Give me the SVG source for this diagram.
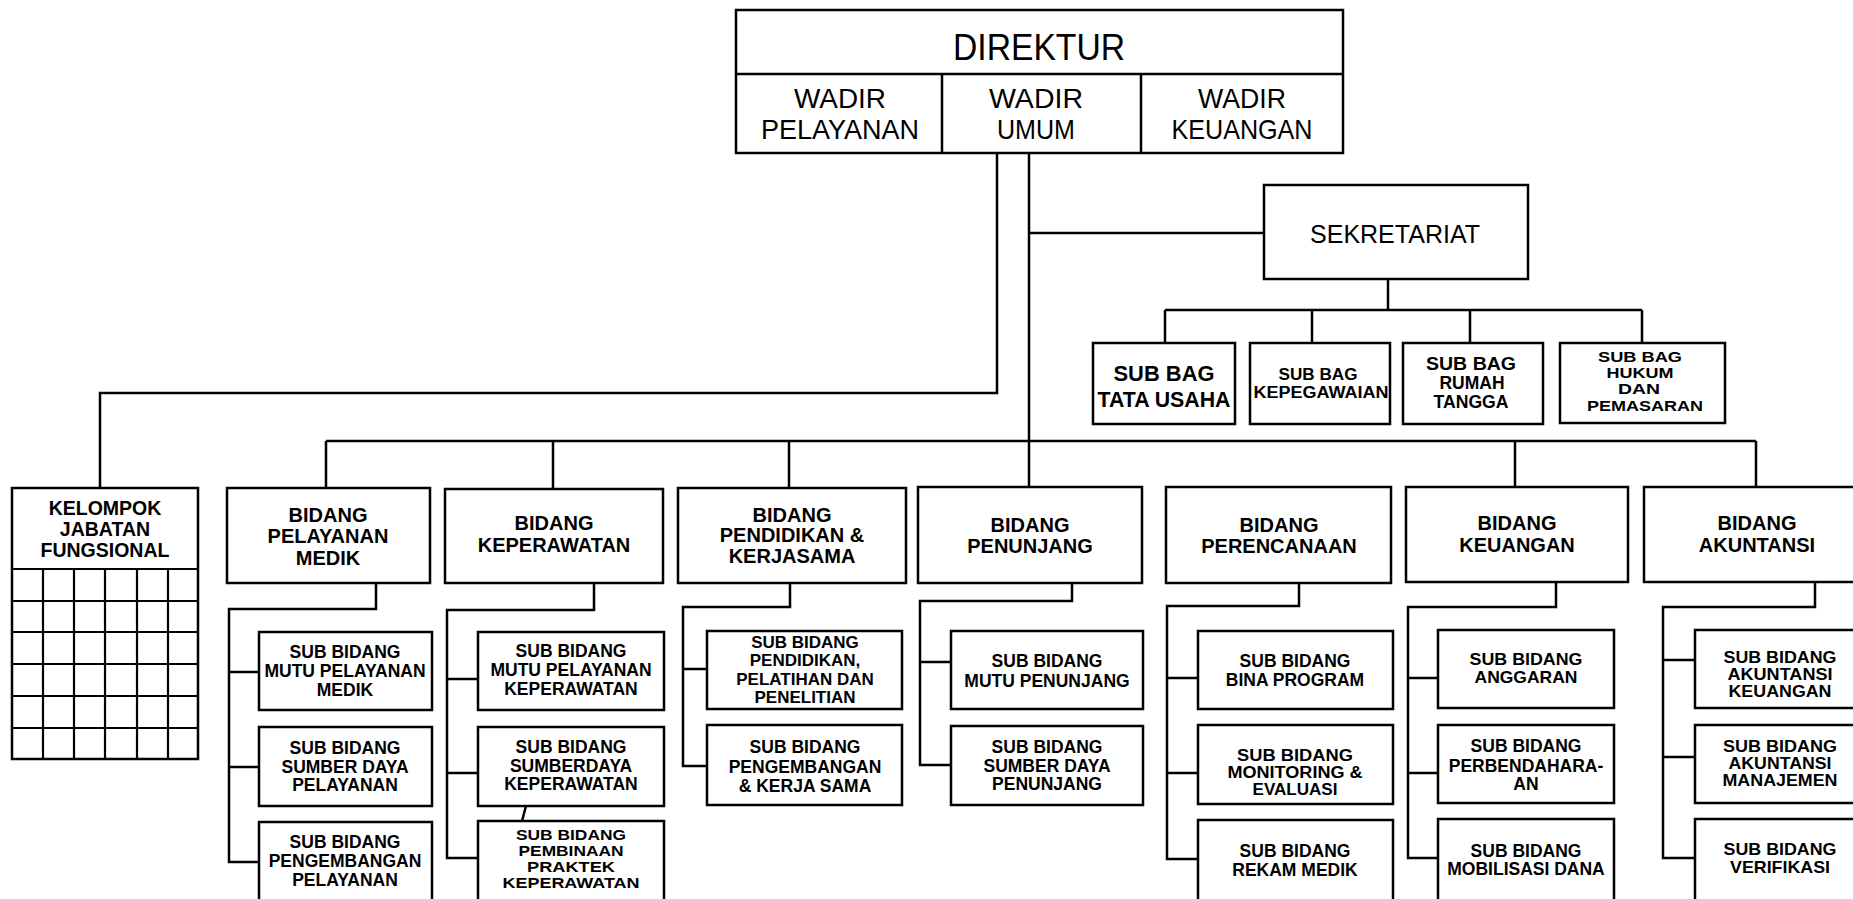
<svg xmlns="http://www.w3.org/2000/svg" width="1853" height="899" viewBox="0 0 1853 899">
<style>
.bx{fill:#fff;stroke:#000;stroke-width:2.5}
.ln{fill:none;stroke:#000;stroke-width:2.5}
.gr{fill:none;stroke:#000;stroke-width:2.2}
text{font-family:"Liberation Sans",Arial,sans-serif;fill:#000;text-anchor:middle}
.tr{font-size:28px}
.td{font-size:36px}
.ts{font-size:25px}
.tg{font-weight:bold;font-size:22px}
.tg2{font-weight:bold;font-size:16px}
.tg3{font-weight:bold;font-size:17.5px}
.tg4{font-weight:bold;font-size:15px}
.tb{font-weight:bold;font-size:20px}
.tk{font-weight:bold;font-size:19.5px}
.tsb{font-weight:bold;font-size:17.5px}
.ts17{font-weight:bold;font-size:17px}
.ts16{font-weight:bold;font-size:16px}
.ts15{font-weight:bold;font-size:15px}
</style>
<rect width="1853" height="899" fill="#fff"/>
<g id="connectors">
<path class="ln" d="M997,153 V393 H100 V488"/>
<path class="ln" d="M1029,153 V487"/>
<path class="ln" d="M1029,233 H1264"/>
<path class="ln" d="M1388,279 V310 M1165,310 H1642 M1165,310 V343 M1312,310 V343 M1470,310 V343 M1642,310 V343"/>
<path class="ln" d="M326,441 H1756 M326,441 V488 M553,441 V489 M789,441 V488 M1515,441 V487 M1756,441 V487"/>
<path class="ln" d="M376,583 V609 H229 V862 H259 M229,672 H259 M229,767 H259"/>
<path class="ln" d="M594,583 V610 H447 V858 H478 M447,679 H478 M447,773 H478 M526,806 L522,821"/>
<path class="ln" d="M790,583 V607 H683 V766 H707 M683,669 H707"/>
<path class="ln" d="M1072,583 V601 H920 V765 H951 M920,662 H951"/>
<path class="ln" d="M1299,583 V606 H1167 V859 H1198 M1167,678 H1198 M1167,773 H1198"/>
<path class="ln" d="M1556,582 V607 H1408 V858 H1438 M1408,678 H1438 M1408,773 H1438"/>
<path class="ln" d="M1815,582 V607 H1663 V858 H1695 M1663,660 H1695 M1663,757 H1695"/>
</g>
<g id="direktur">
<rect class="bx" x="736" y="10" width="607" height="143"/>
<path class="ln" d="M736,74 H1343 M942,74 V153 M1141,74 V153"/>
<text class="td" x="1039" y="60" textLength="172" lengthAdjust="spacingAndGlyphs">DIREKTUR</text>
</g>
<g id="wadir-pelayanan">
<text class="tr" x="840" y="108" textLength="92" lengthAdjust="spacingAndGlyphs">WADIR</text>
<text class="tr" x="840" y="139" textLength="158" lengthAdjust="spacingAndGlyphs">PELAYANAN</text>
</g>
<g id="wadir-umum">
<text class="tr" x="1036" y="108" textLength="94" lengthAdjust="spacingAndGlyphs">WADIR</text>
<text class="tr" x="1036" y="139" textLength="78" lengthAdjust="spacingAndGlyphs">UMUM</text>
</g>
<g id="wadir-keuangan">
<text class="tr" x="1242" y="108" textLength="88" lengthAdjust="spacingAndGlyphs">WADIR</text>
<text class="tr" x="1242" y="139" textLength="141" lengthAdjust="spacingAndGlyphs">KEUANGAN</text>
</g>
<g id="sekretariat">
<rect class="bx" x="1264" y="185" width="264" height="94"/>
<text class="ts" x="1395" y="243">SEKRETARIAT</text>
</g>
<g id="subbag-tu">
<rect class="bx" x="1093" y="343" width="142" height="81"/>
<text class="tg" x="1164" y="381" textLength="101" lengthAdjust="spacingAndGlyphs">SUB BAG</text>
<text class="tg" x="1164" y="407" textLength="133" lengthAdjust="spacingAndGlyphs">TATA USAHA</text>
</g>
<g id="subbag-kepegawaian">
<rect class="bx" x="1250" y="343" width="140" height="81"/>
<text class="tg2" x="1318" y="380" textLength="79" lengthAdjust="spacingAndGlyphs">SUB BAG</text>
<text class="tg2" x="1321" y="398" textLength="135" lengthAdjust="spacingAndGlyphs">KEPEGAWAIAN</text>
</g>
<g id="subbag-rt">
<rect class="bx" x="1403" y="343" width="140" height="81"/>
<text class="tg3" x="1471" y="370" textLength="90" lengthAdjust="spacingAndGlyphs">SUB BAG</text>
<text class="tg3" x="1472" y="389" textLength="65" lengthAdjust="spacingAndGlyphs">RUMAH</text>
<text class="tg3" x="1471" y="408" textLength="75" lengthAdjust="spacingAndGlyphs">TANGGA</text>
</g>
<g id="subbag-hukum">
<rect class="bx" x="1560" y="343" width="165" height="80"/>
<text class="tg4" x="1640" y="362" textLength="84" lengthAdjust="spacingAndGlyphs">SUB BAG</text>
<text class="tg4" x="1640" y="378" textLength="67" lengthAdjust="spacingAndGlyphs">HUKUM</text>
<text class="tg4" x="1639" y="394" textLength="42" lengthAdjust="spacingAndGlyphs">DAN</text>
<text class="tg4" x="1645" y="411" textLength="116" lengthAdjust="spacingAndGlyphs">PEMASARAN</text>
</g>
<g id="kelompok">
<rect class="bx" x="12" y="488" width="186" height="271"/>
<path class="gr" d="M12,569 H198 M12,601 H198 M12,632 H198 M12,664 H198 M12,696 H198 M12,728 H198 M43,569 V759 M74,569 V759 M105,569 V759 M137,569 V759 M168,569 V759"/>
<text class="tk" x="105" y="515">KELOMPOK</text>
<text class="tk" x="105" y="536">JABATAN</text>
<text class="tk" x="105" y="557">FUNGSIONAL</text>
</g>
<g id="bidang-pelayanan-medik">
<rect class="bx" x="227" y="488" width="203" height="95"/>
<text class="tb" x="328" y="522">BIDANG</text>
<text class="tb" x="328" y="543">PELAYANAN</text>
<text class="tb" x="328" y="565">MEDIK</text>
</g>
<g id="sb-mutu-medik">
<rect class="bx" x="259" y="632" width="173" height="78"/>
<text class="tsb" x="345" y="658">SUB BIDANG</text>
<text class="tsb" x="345" y="677">MUTU PELAYANAN</text>
<text class="tsb" x="345" y="696">MEDIK</text>
</g>
<g id="sb-sdm-pelayanan">
<rect class="bx" x="259" y="727" width="173" height="79"/>
<text class="tsb" x="345" y="754">SUB BIDANG</text>
<text class="tsb" x="345" y="773">SUMBER DAYA</text>
<text class="tsb" x="345" y="791">PELAYANAN</text>
</g>
<g id="sb-pengembangan-pelayanan">
<rect class="bx" x="259" y="822" width="173" height="80"/>
<text class="tsb" x="345" y="848">SUB BIDANG</text>
<text class="tsb" x="345" y="867">PENGEMBANGAN</text>
<text class="tsb" x="345" y="886">PELAYANAN</text>
</g>
<g id="bidang-keperawatan">
<rect class="bx" x="445" y="489" width="218" height="94"/>
<text class="tb" x="554" y="530">BIDANG</text>
<text class="tb" x="554" y="552">KEPERAWATAN</text>
</g>
<g id="sb-mutu-keperawatan">
<rect class="bx" x="478" y="632" width="186" height="78"/>
<text class="tsb" x="571" y="657">SUB BIDANG</text>
<text class="tsb" x="571" y="676">MUTU PELAYANAN</text>
<text class="tsb" x="571" y="695">KEPERAWATAN</text>
</g>
<g id="sb-sdm-keperawatan">
<rect class="bx" x="478" y="727" width="186" height="79"/>
<text class="tsb" x="571" y="753">SUB BIDANG</text>
<text class="tsb" x="571" y="772">SUMBERDAYA</text>
<text class="tsb" x="571" y="790">KEPERAWATAN</text>
</g>
<g id="sb-pembinaan-praktek">
<rect class="bx" x="478" y="821" width="186" height="81"/>
<text class="ts15" x="571" y="840" textLength="110" lengthAdjust="spacingAndGlyphs">SUB BIDANG</text>
<text class="ts15" x="571" y="856" textLength="105" lengthAdjust="spacingAndGlyphs">PEMBINAAN</text>
<text class="ts15" x="571" y="872" textLength="88" lengthAdjust="spacingAndGlyphs">PRAKTEK</text>
<text class="ts15" x="571" y="888" textLength="137" lengthAdjust="spacingAndGlyphs">KEPERAWATAN</text>
</g>
<g id="bidang-pendidikan">
<rect class="bx" x="678" y="488" width="228" height="95"/>
<text class="tb" x="792" y="522">BIDANG</text>
<text class="tb" x="792" y="542">PENDIDIKAN &amp;</text>
<text class="tb" x="792" y="563">KERJASAMA</text>
</g>
<g id="sb-pendidikan">
<rect class="bx" x="707" y="631" width="195" height="78"/>
<text class="ts17" x="805" y="648">SUB BIDANG</text>
<text class="ts17" x="805" y="666">PENDIDIKAN,</text>
<text class="ts17" x="805" y="685">PELATIHAN DAN</text>
<text class="ts17" x="805" y="703">PENELITIAN</text>
</g>
<g id="sb-pengembangan-kerjasama">
<rect class="bx" x="707" y="725" width="195" height="80"/>
<text class="tsb" x="805" y="753">SUB BIDANG</text>
<text class="tsb" x="805" y="773">PENGEMBANGAN</text>
<text class="tsb" x="805" y="792">&amp; KERJA SAMA</text>
</g>
<g id="bidang-penunjang">
<rect class="bx" x="918" y="487" width="224" height="96"/>
<text class="tb" x="1030" y="532">BIDANG</text>
<text class="tb" x="1030" y="553">PENUNJANG</text>
</g>
<g id="sb-mutu-penunjang">
<rect class="bx" x="951" y="631" width="192" height="78"/>
<text class="tsb" x="1047" y="667">SUB BIDANG</text>
<text class="tsb" x="1047" y="687">MUTU PENUNJANG</text>
</g>
<g id="sb-sdm-penunjang">
<rect class="bx" x="951" y="726" width="192" height="79"/>
<text class="tsb" x="1047" y="753">SUB BIDANG</text>
<text class="tsb" x="1047" y="772">SUMBER DAYA</text>
<text class="tsb" x="1047" y="790">PENUNJANG</text>
</g>
<g id="bidang-perencanaan">
<rect class="bx" x="1166" y="487" width="225" height="96"/>
<text class="tb" x="1279" y="532">BIDANG</text>
<text class="tb" x="1279" y="553">PERENCANAAN</text>
</g>
<g id="sb-bina-program">
<rect class="bx" x="1198" y="631" width="195" height="78"/>
<text class="tsb" x="1295" y="667">SUB BIDANG</text>
<text class="tsb" x="1295" y="686">BINA PROGRAM</text>
</g>
<g id="sb-monev">
<rect class="bx" x="1198" y="725" width="195" height="79"/>
<text class="ts16" x="1295" y="761" textLength="116" lengthAdjust="spacingAndGlyphs">SUB BIDANG</text>
<text class="ts16" x="1295" y="778" textLength="135" lengthAdjust="spacingAndGlyphs">MONITORING &amp;</text>
<text class="ts16" x="1295" y="795" textLength="85" lengthAdjust="spacingAndGlyphs">EVALUASI</text>
</g>
<g id="sb-rekam-medik">
<rect class="bx" x="1198" y="820" width="195" height="82"/>
<text class="tsb" x="1295" y="857">SUB BIDANG</text>
<text class="tsb" x="1295" y="876">REKAM MEDIK</text>
</g>
<g id="bidang-keuangan">
<rect class="bx" x="1406" y="487" width="222" height="95"/>
<text class="tb" x="1517" y="530">BIDANG</text>
<text class="tb" x="1517" y="552">KEUANGAN</text>
</g>
<g id="sb-anggaran">
<rect class="bx" x="1438" y="630" width="176" height="78"/>
<text class="ts17" x="1526" y="665" textLength="113" lengthAdjust="spacingAndGlyphs">SUB BIDANG</text>
<text class="ts17" x="1526" y="683" textLength="103" lengthAdjust="spacingAndGlyphs">ANGGARAN</text>
</g>
<g id="sb-perbendaharaan">
<rect class="bx" x="1438" y="725" width="176" height="78"/>
<text class="tsb" x="1526" y="752">SUB BIDANG</text>
<text class="tsb" x="1526" y="772">PERBENDAHARA-</text>
<text class="tsb" x="1526" y="790">AN</text>
</g>
<g id="sb-mobilisasi-dana">
<rect class="bx" x="1438" y="819" width="176" height="83"/>
<text class="tsb" x="1526" y="857">SUB BIDANG</text>
<text class="tsb" x="1526" y="875">MOBILISASI DANA</text>
</g>
<g id="bidang-akuntansi">
<rect class="bx" x="1644" y="487" width="226" height="95"/>
<text class="tb" x="1757" y="530">BIDANG</text>
<text class="tb" x="1757" y="552">AKUNTANSI</text>
</g>
<g id="sb-akuntansi-keuangan">
<rect class="bx" x="1695" y="630" width="172" height="78"/>
<text class="ts16" x="1780" y="663" textLength="113" lengthAdjust="spacingAndGlyphs">SUB BIDANG</text>
<text class="ts16" x="1780" y="680" textLength="105" lengthAdjust="spacingAndGlyphs">AKUNTANSI</text>
<text class="ts16" x="1780" y="697" textLength="103" lengthAdjust="spacingAndGlyphs">KEUANGAN</text>
</g>
<g id="sb-akuntansi-manajemen">
<rect class="bx" x="1695" y="725" width="172" height="78"/>
<text class="ts16" x="1780" y="752" textLength="114" lengthAdjust="spacingAndGlyphs">SUB BIDANG</text>
<text class="ts16" x="1780" y="769" textLength="103" lengthAdjust="spacingAndGlyphs">AKUNTANSI</text>
<text class="ts16" x="1780" y="786" textLength="115" lengthAdjust="spacingAndGlyphs">MANAJEMEN</text>
</g>
<g id="sb-verifikasi">
<rect class="bx" x="1695" y="819" width="172" height="83"/>
<text class="ts17" x="1780" y="855" textLength="113" lengthAdjust="spacingAndGlyphs">SUB BIDANG</text>
<text class="ts17" x="1780" y="873" textLength="100" lengthAdjust="spacingAndGlyphs">VERIFIKASI</text>
</g>
</svg>
